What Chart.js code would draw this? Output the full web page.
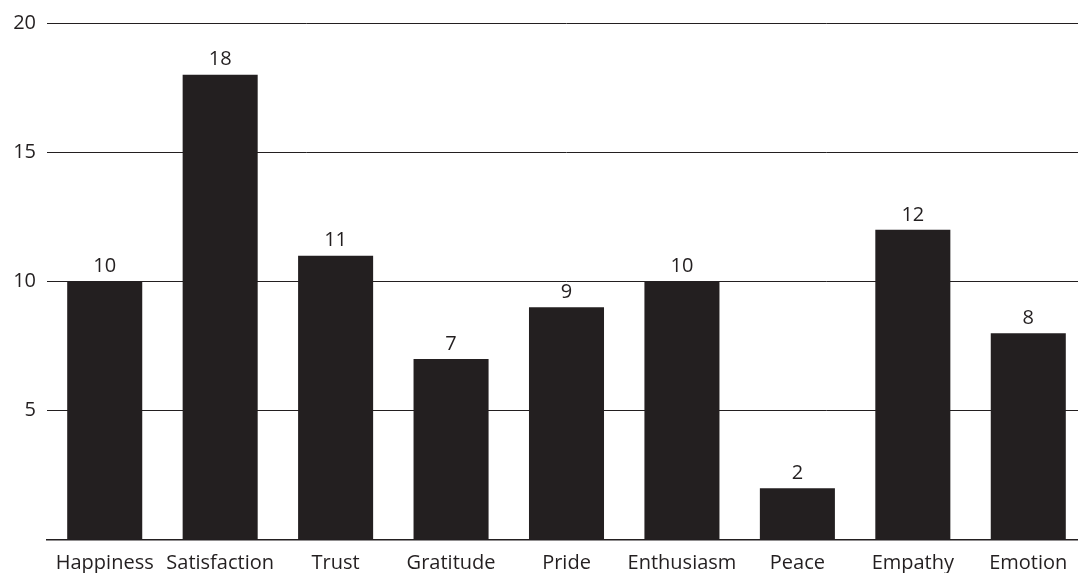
<!DOCTYPE html>
<html>
<head>
<meta charset="utf-8">
<script src="https://cdn.jsdelivr.net/npm/chart.js@4"></script>
<style>
  html, body { margin: 0; padding: 0; background: #fff; overflow: hidden; }
  #wrap { width: 1078px; height: 573px; overflow: hidden; }
</style>
</head>
<body>
<div id="wrap"><canvas id="grafico" width="1086" height="573"></canvas></div>
<script>
const categorias = ['Happiness', 'Satisfaction', 'Trust', 'Gratitude', 'Pride', 'Enthusiasm', 'Peace', 'Empathy', 'Emotion'];
const valores = [10, 18, 11, 7, 9, 10, 2, 12, 8];
const ejeMax = 20;
const ejePaso = 5;

const tinta = '#231f20';
const fuente = "'Open Sans', 'Noto Sans', sans-serif";

// Etiquetas de valor encima de cada barra
const etiquetasValor = {
    id: 'etiquetasValor',
    afterDatasetsDraw(chart) {
        const ctx = chart.ctx;
        const meta = chart.getDatasetMeta(0);
        ctx.save();
        ctx.fillStyle = tinta;
        ctx.font = '20px ' + fuente;
        ctx.textAlign = 'center';
        ctx.textBaseline = 'bottom';
        meta.data.forEach((barra, i) => {
            ctx.fillText(String(valores[i]), barra.x, barra.y - 5);
        });
        ctx.restore();
    }
};

new Chart(document.getElementById('grafico').getContext('2d'), {
    type: 'bar',
    data: {
        labels: categorias,
        datasets: [{
            data: valores,
            backgroundColor: tinta,
            borderWidth: 0,
            barPercentage: 0.65,
            categoryPercentage: 1
        }]
    },
    options: {
        responsive: false,
        animation: false,
        layout: { padding: { top: 22, left: 0, right: 0, bottom: 0 } },
        plugins: {
            legend: { display: false },
            tooltip: { enabled: false }
        },
        scales: {
            x: {
                offset: true,
                grid: { display: false, drawTicks: false },
                border: { display: true, color: tinta, width: 1.5 },
                ticks: {
                    color: tinta,
                    font: { family: fuente, size: 20 },
                    padding: 11,
                    maxRotation: 0,
                    autoSkip: false
                },
                afterFit(scale) { scale.height = 33; }
            },
            y: {
                min: 0,
                max: ejeMax,
                grid: {
                    color: ctx => ctx.tick && ctx.tick.value === 0 ? 'rgba(0,0,0,0)' : tinta,
                    lineWidth: 1,
                    drawTicks: false
                },
                border: { display: false },
                ticks: {
                    stepSize: ejePaso,
                    color: tinta,
                    font: { family: fuente, size: 20 },
                    padding: 11,
                    callback: v => v === 0 ? '' : v
                },
                afterFit(scale) { scale.width = 47; }
            }
        }
    },
    plugins: [etiquetasValor]
});
</script>
</body>
</html>
